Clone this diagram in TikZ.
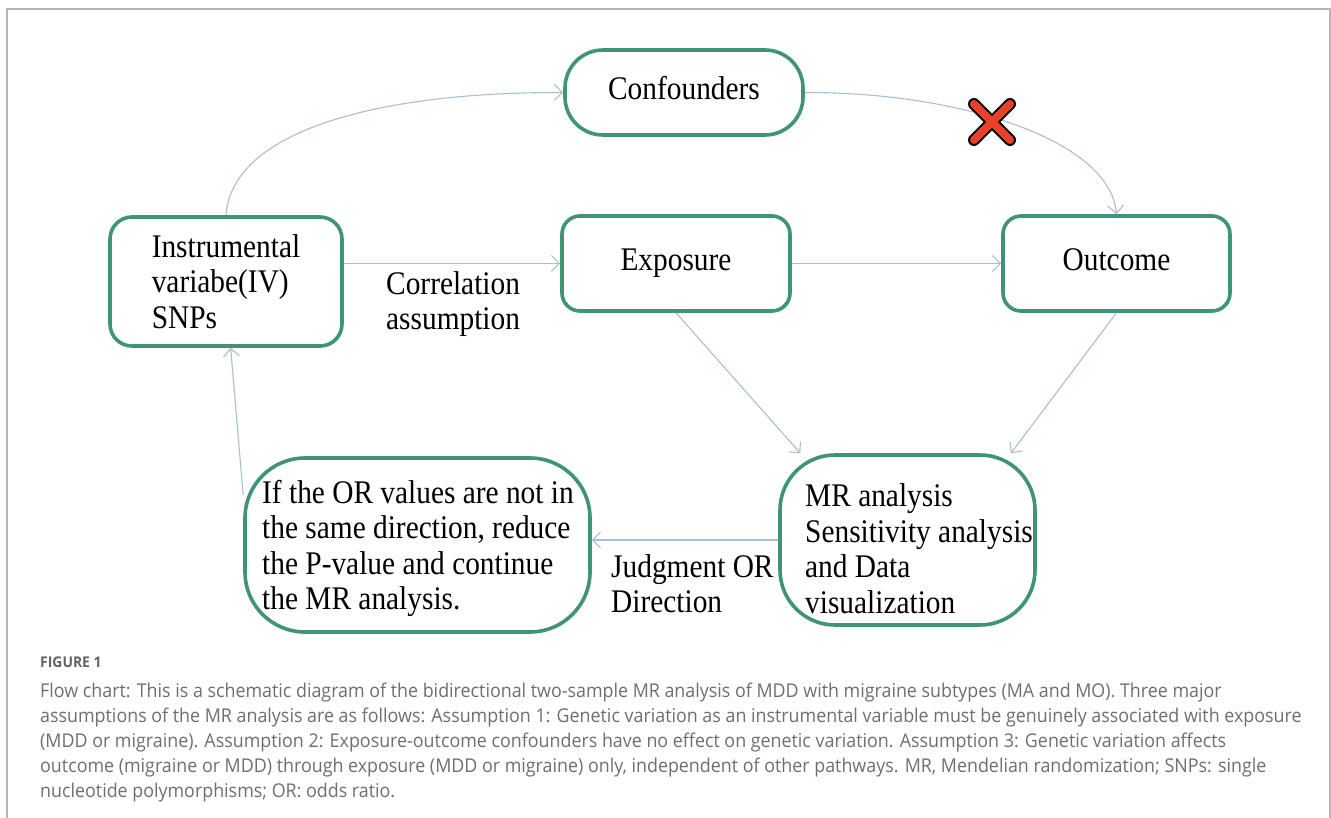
\documentclass[tikz,border=0pt]{standalone}
\usepackage{fontspec}
\usetikzlibrary{arrows.meta,calc}
\newfontfamily\diagfont[FakeStretch=0.89]{Liberation Serif}
\newfontfamily\capfont[FakeStretch=0.94]{Open Sans}
\definecolor{boxgreen}{HTML}{3E9473}
\definecolor{arrowblue}{HTML}{A9BDD3}
\definecolor{frameg}{HTML}{B4B4B4}
\definecolor{capgray}{HTML}{6E6E6E}
\definecolor{xred}{HTML}{E8412A}
\tikzset{
  box/.style={draw=boxgreen, line width=3.6pt, fill=white, inner sep=0pt},
  dtext/.style={font=\diagfont\fontsize{33}{35.5}\selectfont, inner sep=0pt, align=left},
  onetext/.style={font=\diagfont\fontsize{33}{35.5}\selectfont, text height=22pt, text depth=7pt},
  conn/.style={draw=arrowblue, line width=1.1pt, -{Straight Barb[length=8pt,width=16pt]}},
  captext/.style={font=\capfont\fontsize{19}{25}\selectfont, text=capgray, anchor=base west, inner sep=0pt},
}
\begin{document}
\begin{tikzpicture}[x=1pt,y=-1pt]
\useasboundingbox (0,0) rectangle (1331,818);
% frame
\draw[frameg, line width=1.5pt] (7,818) -- (7,9) -- (1330,9) -- (1330,818);

% boxes
\node[box, onetext, minimum width=238pt, minimum height=85pt, rounded corners=38pt] (conf) at (684,92.5) {Confounders};
\node[box, minimum width=232pt, minimum height=129pt, rounded corners=22pt, dtext] (iv) at (226,281.5) {Instrumental\\variabe(IV)\\SNPs};
\node[box, onetext, minimum width=228pt, minimum height=95pt, rounded corners=18pt] (exp) at (676,263.5) {Exposure};
\node[box, onetext, minimum width=227pt, minimum height=95pt, rounded corners=18pt] (out) at (1116.5,263.5) {Outcome};
\node[box, minimum width=255pt, minimum height=170pt, rounded corners=55pt] (mr) at (907.5,540) {};
\node[box, minimum width=345pt, minimum height=174pt, rounded corners=60pt] (ifbox) at (417.5,545) {};

% texts inside the rounded boxes
\node[dtext, anchor=west] (mrtext) at (805,548.5) {MR analysis\\Sensitivity analysis\\and Data\\visualization};
\node[dtext, anchor=west] (iftext) at (262,548.5) {If the OR values are not in\\the same direction, reduce\\the P-value and continue\\the MR analysis.};

% connector labels
\node[dtext, anchor=west] (corr) at (386,304) {Correlation\\assumption};
\node[dtext, anchor=west] (judg) at (611,583.5) {Judgment OR\\Direction};

% connectors
\draw[conn] (iv.north) .. controls (232,130) and (380,92) .. (conf.west);
\draw[conn] (conf.east) .. controls (960,92) and (1110,140) .. (out.north);
\draw[conn] (iv.east |- exp.west) -- (exp.west);
\draw[conn] (exp.east) -- (out.west);
\draw[conn] (exp.south) -- (mr.141.5);
\draw[conn] (out.south) -- (mr.40);
\draw[conn] (mr.west) -- (mr.west -| ifbox.east);
\draw[conn] (ifbox.164.5) -- (iv.274);

% red cross
\coordinate (xa) at (974,104);
\coordinate (xb) at (1010,140);
\coordinate (xc) at (1010,104);
\coordinate (xd) at (974,140);
\draw[black, line width=12pt, line cap=round] (xa) -- (xb) (xc) -- (xd);
\draw[xred, line width=8pt, line cap=round] (xa) -- (xb) (xc) -- (xd);

% caption
\node[captext, font=\capfont\bfseries\fontsize{14.8}{16}\selectfont, text=capgray!90!black] (fig) at (40,667) {FIGURE 1};
\node[captext] (c1) at (40,697) {Flow chart: This is a schematic diagram of the bidirectional two-sample MR analysis of MDD with migraine subtypes (MA and MO). Three major};
\node[captext] (c2) at (40,722) {assumptions of the MR analysis are as follows: Assumption 1: Genetic variation as an instrumental variable must be genuinely associated with exposure};
\node[captext] (c3) at (40,747) {(MDD or migraine). Assumption 2: Exposure-outcome confounders have no effect on genetic variation. Assumption 3: Genetic variation affects};
\node[captext] (c4) at (40,772) {outcome (migraine or MDD) through exposure (MDD or migraine) only, independent of other pathways. MR, Mendelian randomization; SNPs: single};
\node[captext] (c5) at (40,797) {nucleotide polymorphisms; OR: odds ratio.};
\end{tikzpicture}
\end{document}
